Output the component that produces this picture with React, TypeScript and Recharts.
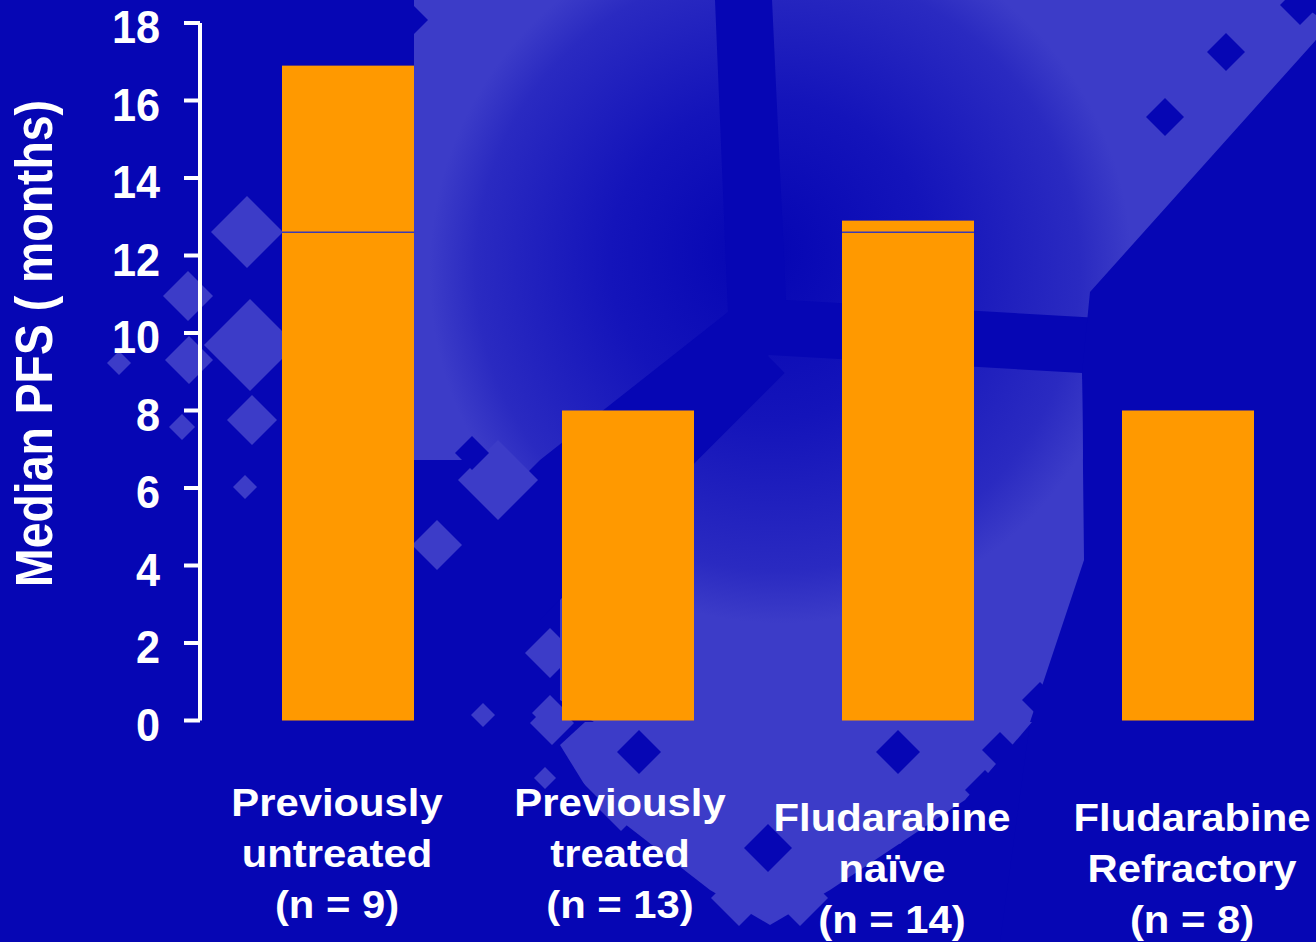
import React from 'react';
import { BarChart, Bar, XAxis, YAxis } from 'recharts';

// ---- chart data ----
const categoryLines: string[][] = [
  ['Previously', 'untreated', '(n = 9)'],
  ['Previously', 'treated', '(n = 13)'],
  ['Fludarabine', 'naïve', '(n = 14)'],
  ['Fludarabine', 'Refractory', '(n = 8)'],
];
const categories = categoryLines.map((lines) => lines.join(' '));
const medianPfs = [16.9, 8, 12.9, 8];
// level at which a thin divider crosses the bar (null = no divider)
const dividerAt: (number | null)[] = [12.6, null, 12.6, null];
const yTicks = [0, 2, 4, 6, 8, 10, 12, 14, 16, 18];
const frameTicks = [0, 1, 2, 3, 4];

const data = categories.map((name, i) => {
  const cut = dividerAt[i];
  const lower = cut ?? medianPfs[i];
  return { name, lower, upper: +(medianPfs[i] - lower).toFixed(2) };
});

// ---- styling ----
const FONT = '"Liberation Sans", Arial, Helvetica, sans-serif';
const BASE = '#0606B4';
const LIGHT = '#3C3CC8';
const ORANGE = '#FF9900';
const WHITE = '#FFFFFF';

// per-label nudges of the category captions
const labelShift = [
  { dx: -11, dy: 0 },
  { dx: -8, dy: 0 },
  { dx: -16, dy: 15 },
  { dx: 4, dy: 15 },
];

const YTick = (props: any) => {
  const { x, y, payload } = props;
  return (
    <g transform={`translate(${x - 24},${y + 20}) scale(0.94,1)`}>
      <text x={0} y={0} textAnchor="end" fill={WHITE} fontFamily={FONT} fontWeight="bold" fontSize={46}>
        {payload.value}
      </text>
    </g>
  );
};

const CategoryTick = (props: any) => {
  const { x, y, payload } = props;
  const idx = props.index ?? payload.index ?? 0;
  const lines = categoryLines[idx] || [];
  const s = labelShift[idx] || { dx: 0, dy: 0 };
  return (
    <g>
      {lines.map((line, k) => (
        <g key={k} transform={`translate(${x + s.dx},${y + 95.5 + s.dy + k * 51}) scale(1.1,1)`}>
          <text x={0} y={0} textAnchor="middle" fill={WHITE} fontFamily={FONT} fontWeight="bold" fontSize={38}>
            {line}
          </text>
        </g>
      ))}
    </g>
  );
};

// upper part of a split bar, with the thin divider along its lower edge
const UpperSegment = (props: any) => {
  const { x, y, width, height } = props;
  if (!height || height <= 0) return null;
  return (
    <g>
      <rect x={x} y={y} width={width} height={height} fill={ORANGE} />
      <line x1={x} x2={x + width} y1={y + height} y2={y + height} stroke="#3B3BB4" strokeWidth={1.5} />
    </g>
  );
};

const YTitle = () => (
  <text
    transform="translate(51.7,343.5) rotate(-90)"
    textAnchor="middle"
    fill={WHITE}
    fontFamily={FONT}
    fontWeight="bold"
    fontSize={51}
    textLength={487}
    lengthAdjust="spacingAndGlyphs"
  >
    Median PFS ( months)
  </text>
);

// ---- slide backdrop (decoration) ----
const diamond = (cx: number, cy: number, r: number) =>
  `${cx},${cy - r} ${cx + r},${cy} ${cx},${cy + r} ${cx - r},${cy}`;

const lightDiamonds: [number, number, number][] = [
  [247, 232, 36], [188, 296, 25], [250, 345, 46], [189, 360, 24], [252, 420, 25],
  [119, 363, 12], [182, 427, 13], [245, 487, 12],
  [498, 480, 40], [437, 545, 25], [550, 653, 25], [550, 713, 18], [483, 715, 12], [552, 723, 22],
  [545, 778, 11], [739, 898, 28], [800, 898, 28], [621, 807, 24], [900, 820, 24],
];
const darkDiamonds: [number, number, number][] = [
  [472, 453, 17], [410, 20, 18], [1226, 52, 19], [1165, 117, 19], [1300, 5, 20],
  [639, 752, 22], [898, 752, 22], [768, 848, 24], [580, 800, 20], [985, 790, 20],
  [1040, 700, 18], [1000, 750, 18],
];

const Backdrop = () => (
  <svg width={1316} height={942} style={{ position: 'absolute', left: 0, top: 0 }}>
    <defs>
      <radialGradient id="glow" gradientUnits="userSpaceOnUse" cx={781} cy={272} r={355} fx={760} fy={250}>
        <stop offset="0" stopColor="#0505B3" />
        <stop offset="0.45" stopColor="#1414BA" />
        <stop offset="0.85" stopColor="#2A2AC1" />
        <stop offset="0.99" stopColor={LIGHT} />
        <stop offset="1" stopColor={LIGHT} />
      </radialGradient>
    </defs>
    <rect x={0} y={0} width={1316} height={942} fill={BASE} />
    {/* large tiles */}
    <polygon points="414,0 715,0 728,312 540,460 414,460" fill="url(#glow)" />
    <polygon
      points="1000,0 1294,0 1316,15 1316,40 1294,80 1256,122 1229,145 1191,183 1183,197 1098,283 1080,298 1098,318 1000,318"
      fill="url(#glow)"
    />
    <circle cx={781} cy={272} r={355} fill="url(#glow)" />
    {/* dark cross between the tiles and the dark field on the right */}
    <polygon
      points="715,0 772,0 786,300 1100,318 1100,380 768,356 785,373 698,460 540,620 380,620 540,460 728,312"
      fill={BASE}
    />
    <polygon points="1090,292 1316,40 1316,942 1000,942 1030,722 1084,560 1082,373" fill={BASE} />
    <polygon points="768,355 1082,373 1084,560 1030,722 594,722 560,700 560,600 698,460 785,373" fill="url(#glow)" />
    <polygon points="585,722 1032,722 965,800 830,890 770,925 710,890 594,800 560,745" fill={LIGHT} />
    {lightDiamonds.map(([cx, cy, r], i) => (
      <polygon key={`l${i}`} points={diamond(cx, cy, r)} fill={LIGHT} />
    ))}
    {darkDiamonds.map(([cx, cy, r], i) => (
      <polygon key={`d${i}`} points={diamond(cx, cy, r)} fill={BASE} />
    ))}
  </svg>
);

export default function App() {
  return (
    <div
      style={{
        position: 'fixed',
        left: 0,
        top: 0,
        width: 1316,
        height: 942,
        overflow: 'hidden',
        background: BASE,
      }}
    >
      <Backdrop />
      <div style={{ position: 'absolute', left: 0, top: 0 }}>
        <BarChart width={1340} height={942} data={data} margin={{ top: 23, right: 12, bottom: 0, left: 0 }}>
          <XAxis
            xAxisId="frame"
            type="number"
            domain={[0, 4]}
            ticks={frameTicks}
            allowDataOverflow
            padding={{ left: 0, right: 8 }}
            axisLine={{ stroke: WHITE, strokeWidth: 4 }}
            tickLine={{ stroke: WHITE, strokeWidth: 4 }}
            tickSize={16}
            tick={false}
            height={0}
          />
          <XAxis
            xAxisId="cat"
            dataKey="name"
            type="category"
            padding={{ left: 8, right: 0 }}
            axisLine={false}
            tickLine={false}
            tickSize={0}
            tickMargin={0}
            interval={0}
            height={221.5}
            tick={<CategoryTick />}
          />
          <YAxis
            type="number"
            domain={[0, 18]}
            ticks={yTicks}
            interval={0}
            width={200}
            axisLine={{ stroke: WHITE, strokeWidth: 4 }}
            tickLine={{ stroke: WHITE, strokeWidth: 4 }}
            tickSize={16}
            tickMargin={0}
            tick={<YTick />}
            label={<YTitle />}
          />
          <Bar xAxisId="cat" dataKey="lower" stackId="pfs" fill={ORANGE} barSize={132} isAnimationActive={false} />
          <Bar
            xAxisId="cat"
            dataKey="upper"
            stackId="pfs"
            fill={ORANGE}
            barSize={132}
            shape={<UpperSegment />}
            isAnimationActive={false}
          />
        </BarChart>
      </div>
    </div>
  );
}
